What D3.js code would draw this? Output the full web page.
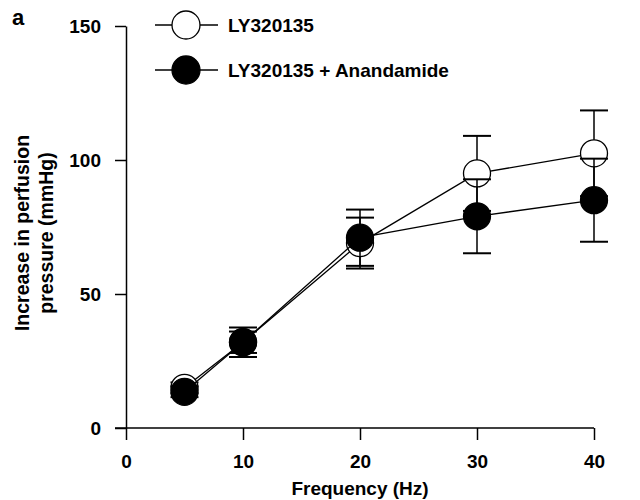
<!DOCTYPE html>
<html>
<head>
<meta charset="utf-8">
<script src="https://cdn.jsdelivr.net/npm/d3@7"></script>
<style>
  body { margin: 0; background: #fff; }
  svg text { font-family: "Liberation Sans", Arial, sans-serif; font-weight: bold; fill: #000; }
</style>
</head>
<body>
<svg id="chart" width="640" height="500"></svg>
<script>
const frequencies = [5, 10, 20, 30, 40];
const lyValues = [15, 32, 69, 95, 102.5];
const lyErrors = [2, 4, 9.5, 14, 16];
const lyAnaValues = [13.5, 32, 71, 79, 85];
const lyAnaErrors = [2, 5.5, 10.5, 13.8, 15.5];
const xTicks = [0, 10, 20, 30, 40];
const yTicks = [0, 50, 100, 150];

const series = [
  { name: 'LY320135', fill: '#fff', values: lyValues, errors: lyErrors },
  { name: 'LY320135 + Anandamide', fill: '#000', values: lyAnaValues, errors: lyAnaErrors },
];

const svg = d3.select('#chart');
const fontSize = 19;

const x = d3.scaleLinear().domain([0, 40]).range([126, 594]);
const y = d3.scaleLinear().domain([0, 150]).range([428, 26]);

// X axis
const xAxis = svg.append('g')
  .attr('transform', `translate(0, ${y(0)})`)
  .call(d3.axisBottom(x).tickValues(xTicks).tickSize(12).tickPadding(15).tickSizeOuter(0));
xAxis.select('.domain').attr('d', `M115,0H${x(40)}`);

// Y axis
svg.append('g')
  .attr('transform', `translate(${x(0)}, 0)`)
  .call(d3.axisLeft(y).tickValues(yTicks).tickSize(11).tickPadding(14).tickSizeOuter(0));

svg.selectAll('.domain, .tick line')
  .attr('stroke', '#000')
  .attr('stroke-width', 1.5);
svg.selectAll('.tick text')
  .attr('font-size', fontSize)
  .attr('font-family', null);

// Axis titles
svg.append('text')
  .attr('x', x(20))
  .attr('y', 495)
  .attr('text-anchor', 'middle')
  .attr('font-size', fontSize)
  .text('Frequency (Hz)');

const yTitle = svg.append('text')
  .attr('transform', 'translate(29, 233) rotate(-90)')
  .attr('text-anchor', 'middle')
  .attr('font-size', 19.5);
yTitle.append('tspan').attr('x', 0).attr('dy', 0).text('Increase in perfusion');
yTitle.append('tspan').attr('x', 0).attr('dy', 24).text('pressure (mmHg)');

// panel letter
svg.append('text')
  .attr('x', 12)
  .attr('y', 25)
  .attr('font-size', 22)
  .text('a');

// Series
const line = d3.line()
  .x(d => x(d.f))
  .y(d => y(d.v));
const r = 13.5;
const capHalf = 14;

series.forEach(s => {
  const pts = frequencies.map((f, i) => ({ f, v: s.values[i], e: s.errors[i] }));
  const g = svg.append('g');

  // error bars
  const eb = g.selectAll('.err')
    .data(pts)
    .enter().append('g');
  eb.append('line')
    .attr('x1', d => x(d.f)).attr('x2', d => x(d.f))
    .attr('y1', d => y(d.v - d.e)).attr('y2', d => y(d.v + d.e))
    .attr('stroke', '#000').attr('stroke-width', 1.5);
  eb.selectAll('.cap')
    .data(d => [d.v - d.e, d.v + d.e].map(v => ({ f: d.f, v })))
    .enter().append('line')
    .attr('x1', d => x(d.f) - capHalf).attr('x2', d => x(d.f) + capHalf)
    .attr('y1', d => y(d.v)).attr('y2', d => y(d.v))
    .attr('stroke', '#000').attr('stroke-width', 2);

  g.append('path')
    .datum(pts)
    .attr('d', line)
    .attr('fill', 'none')
    .attr('stroke', '#000')
    .attr('stroke-width', 1.3);

  g.selectAll('circle')
    .data(pts)
    .enter().append('circle')
    .attr('cx', d => x(d.f))
    .attr('cy', d => y(d.v))
    .attr('r', r)
    .attr('fill', s.fill)
    .attr('stroke', '#000')
    .attr('stroke-width', 1.3);
});

// Legend
const legend = svg.append('g');
series.forEach((s, i) => {
  const ly = 25 + i * 45;
  legend.append('line')
    .attr('x1', 155).attr('x2', 218)
    .attr('y1', ly).attr('y2', ly)
    .attr('stroke', '#000').attr('stroke-width', 1.3);
  legend.append('circle')
    .attr('cx', 186).attr('cy', ly).attr('r', 14)
    .attr('fill', s.fill)
    .attr('stroke', '#000').attr('stroke-width', 1.3);
  legend.append('text')
    .attr('x', 228)
    .attr('y', ly)
    .attr('dy', '0.35em')
    .attr('font-size', fontSize)
    .text(s.name);
});
</script>
</body>
</html>
